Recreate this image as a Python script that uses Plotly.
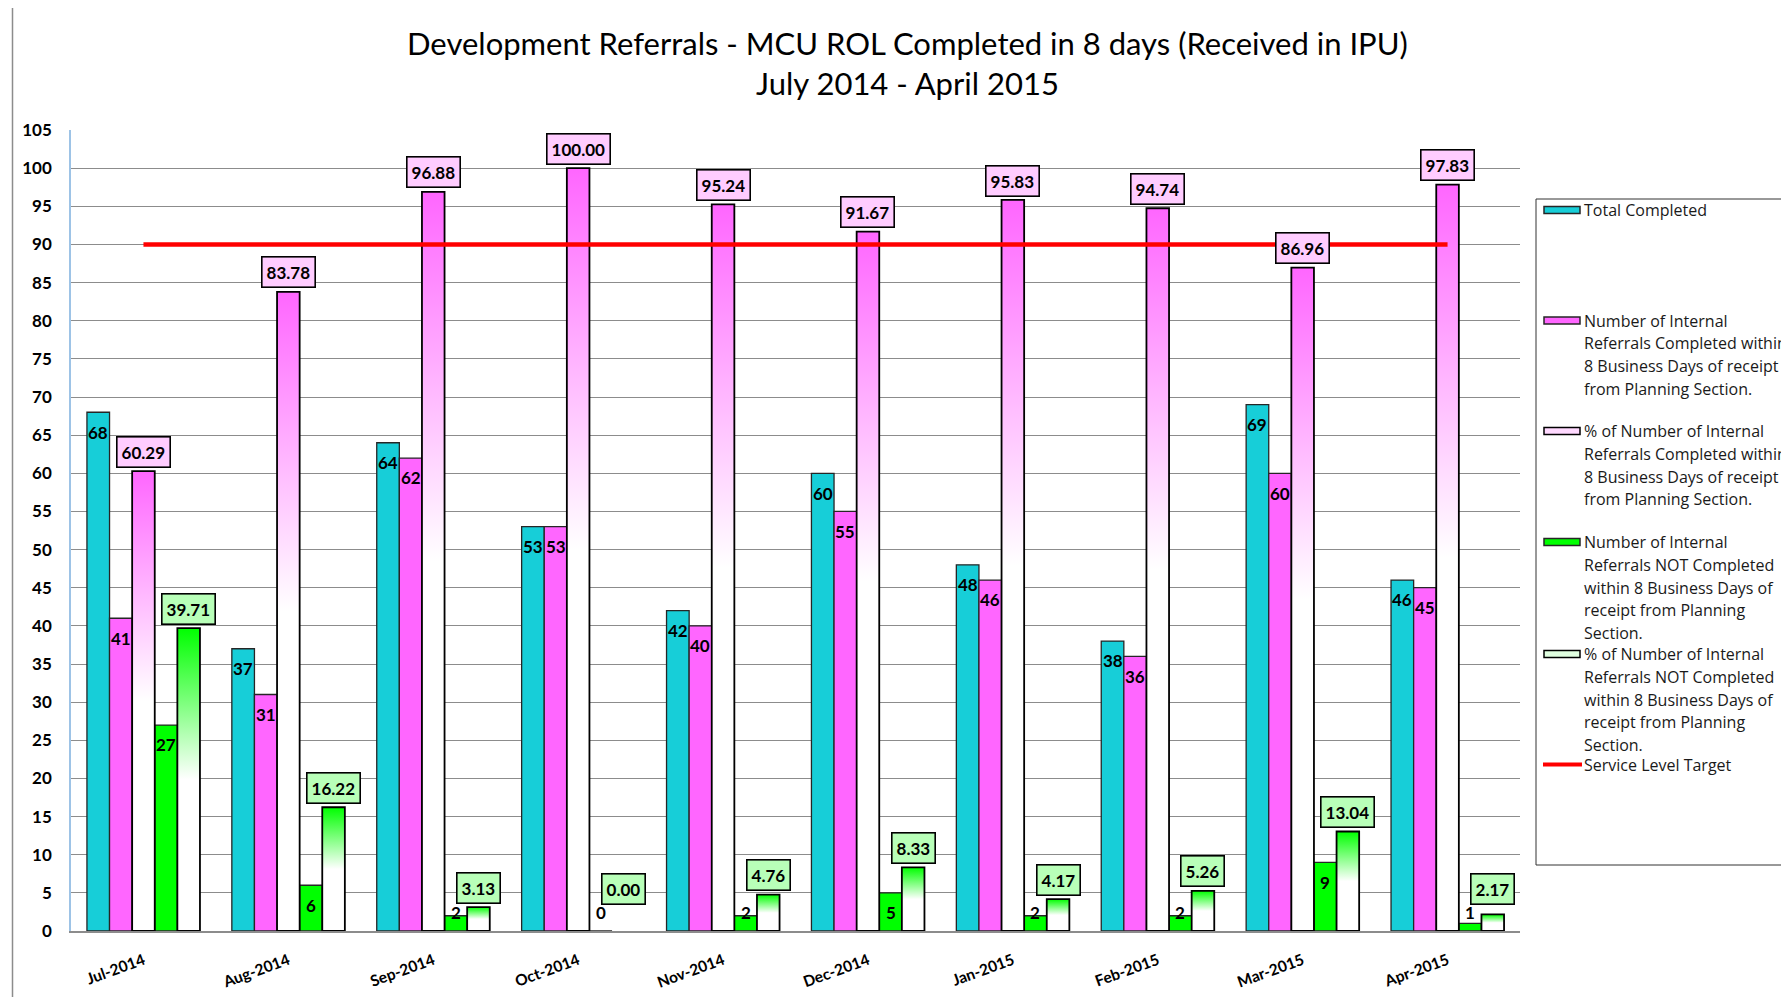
import plotly.graph_objects as go

# ---------------- data ----------------
months = ["Jul-2014", "Aug-2014", "Sep-2014", "Oct-2014", "Nov-2014",
          "Dec-2014", "Jan-2015", "Feb-2015", "Mar-2015", "Apr-2015"]
total_completed = [68, 37, 64, 53, 42, 60, 48, 38, 69, 46]
completed_within = [41, 31, 62, 53, 40, 55, 46, 36, 60, 45]
pct_completed_within = [60.29, 83.78, 96.88, 100.00, 95.24, 91.67, 95.83, 94.74, 86.96, 97.83]
not_completed = [27, 6, 2, 0, 2, 5, 2, 2, 9, 1]
pct_not_completed = [39.71, 16.22, 3.13, 0.00, 4.76, 8.33, 4.17, 5.26, 13.04, 2.17]
service_target = 90
y_ticks = list(range(0, 106, 5))

title_line1 = "Development Referrals - MCU ROL Completed in 8 days (Received in IPU)"
title_line2 = "July 2014 - April 2015"

legend_entries = [
    ["Total Completed"],
    ["Number of Internal", "Referrals Completed within", "8 Business Days of receipt", "from Planning Section."],
    ["% of Number of Internal", "Referrals Completed within", "8 Business Days of receipt", "from Planning Section."],
    ["Number of Internal", "Referrals NOT Completed", "within 8 Business Days of", "receipt from Planning", "Section."],
    ["% of Number of Internal", "Referrals NOT Completed", "within 8 Business Days of", "receipt from Planning", "Section."],
    ["Service Level Target"],
]

# ---------------- style ----------------
PAGE_OFF = 8                      # default body margin of the page
W, H = 1789 - PAGE_OFF, 997 - PAGE_OFF
PW, PH = 1449, 801
L, T = 71 - PAGE_OFF, 130 - PAGE_OFF
R, B = W - L - PW, H - T - PH
CYAN = "#17CED8"
MAGENTA = "#FF66FF"
GREEN = "#00FF00"
BW = 0.156          # bar width in category units
offsets = [-2 * BW, -BW, 0, BW, 2 * BW]
LBL_FONT = dict(family="Lato", size=17, color="black", weight="bold")
x_idx = list(range(len(months)))


def px_x(px):
    """page pixel -> paper x"""
    return (px - PAGE_OFF - L) / PW


def px_y(py):
    """page pixel -> paper y"""
    return (T + PH - (py - PAGE_OFF)) / PH


fig = go.Figure()

# solid bars
for vals, col, off in [(total_completed, CYAN, offsets[0]),
                       (completed_within, MAGENTA, offsets[1]),
                       (not_completed, GREEN, offsets[3])]:
    fig.add_trace(go.Bar(x=x_idx, y=vals, width=BW, offset=off - BW / 2,
                         marker=dict(color=col, line=dict(color="#262626", width=1.3)),
                         showlegend=False, hoverinfo="y"))

# gradient bars (white bottom -> colour top), one polygon per bar
for vals, col, off in [(pct_completed_within, MAGENTA, offsets[2]),
                       (pct_not_completed, GREEN, offsets[4])]:
    for i, v in zip(x_idx, vals):
        if v <= 0:
            continue
        x0, x1 = i + off - BW / 2, i + off + BW / 2
        fig.add_trace(go.Scatter(
            x=[x0, x0, x1, x1, x0], y=[0, v, v, 0, 0],
            mode="lines", fill="toself",
            fillgradient=dict(type="vertical",
                              colorscale=[[0, "#FFFFFF"], [0.5, "#FFFFFF"], [1, col]]),
            line=dict(color="black", width=1.8),
            showlegend=False, hoverinfo="skip"))

# service level target line
fig.add_trace(go.Scatter(x=x_idx, y=[service_target] * len(x_idx), mode="lines",
                         line=dict(color="#FF0000", width=4.5),
                         showlegend=False, hoverinfo="skip"))

annotations = []
# plain value labels
for vals, off in [(total_completed, offsets[0]), (completed_within, offsets[1]),
                  (not_completed, offsets[3])]:
    for i, v in zip(x_idx, vals):
        annotations.append(dict(x=i + off, y=max(v - 2.6, 2.4), text=str(v),
                                showarrow=False, font=LBL_FONT,
                                xanchor="center", yanchor="middle"))
# boxed percentage labels
for vals, off, bg in [(pct_completed_within, offsets[2], "#FFCCFF"),
                      (pct_not_completed, offsets[4], "#B8FFB8")]:
    for i, v in zip(x_idx, vals):
        annotations.append(dict(x=i + off, y=max(v + 2.55, 5.5), text=f"{v:.2f}",
                                showarrow=False, font=LBL_FONT,
                                xanchor="center", yanchor="middle",
                                bgcolor=bg, bordercolor="black", borderwidth=1.6,
                                borderpad=4))

# title
for txt, yy in [(title_line1, 43), (title_line2, 83)]:
    annotations.append(dict(xref="paper", yref="paper", x=px_x(907), y=px_y(yy),
                            text=txt, showarrow=False,
                            font=dict(family="Lato", size=31, color="black"),
                            xanchor="center", yanchor="middle"))

# manual legend
shapes = []
entry_tops = [210, 320.5, 431, 542, 654, 764.5]
line_step = 22.8
swatches = [("rect", CYAN, "#262626"), ("rect", MAGENTA, "#262626"),
            ("rect", "#FFD9FF", "black"), ("rect", GREEN, "#262626"),
            ("rect", "#E0FFE0", "black"), ("line", "#FF0000", None)]
for lines, ytop, sw in zip(legend_entries, entry_tops, swatches):
    for k, txt in enumerate(lines):
        annotations.append(dict(xref="paper", yref="paper", x=px_x(1582),
                                y=px_y(ytop + k * line_step), text=txt,
                                showarrow=False, xanchor="left", yanchor="middle",
                                font=dict(family="Open Sans", size=16, color="#1a1a1a")))
    kind, fc, lc = sw
    if kind == "rect":
        shapes.append(dict(type="rect", xref="paper", yref="paper",
                           x0=px_x(1544), x1=px_x(1580),
                           y0=px_y(ytop - 3.5), y1=px_y(ytop + 3.5),
                           fillcolor=fc, line=dict(color=lc, width=1.5)))
    else:
        shapes.append(dict(type="line", xref="paper", yref="paper",
                           x0=px_x(1543), x1=px_x(1582),
                           y0=px_y(ytop), y1=px_y(ytop),
                           line=dict(color=fc, width=4)))

# legend frame and outer chart frame
shapes.append(dict(type="rect", xref="paper", yref="paper",
                   x0=px_x(1536), x1=px_x(1900), y0=px_y(865), y1=px_y(199),
                   line=dict(color="#333333", width=1), layer="below"))
shapes.append(dict(type="rect", xref="paper", yref="paper",
                   x0=px_x(12.5), x1=px_x(1900), y0=px_y(1100), y1=px_y(6),
                   line=dict(color="#8c8c8c", width=1.5), layer="below"))

fig.update_layout(
    width=W, height=H,
    margin=dict(l=L, r=R, t=T, b=B, autoexpand=False),
    paper_bgcolor="white", plot_bgcolor="white",
    barmode="overlay",
    showlegend=False,
    annotations=annotations,
    shapes=shapes,
    xaxis=dict(range=[-0.5, 9.5], tickmode="array", tickvals=x_idx, ticktext=months,
               tickangle=-20, showgrid=False, zeroline=False,
               showline=True, linecolor="#8c8c8c", linewidth=1.5,
               ticks="", ticklabelstandoff=13,
               tickfont=dict(family="Lato", size=15.5, color="black", weight="bold")),
    yaxis=dict(range=[0, 105], tickmode="array", tickvals=y_ticks,
               showgrid=True, gridcolor="#8c8c8c", gridwidth=1.2, zeroline=False,
               showline=True, linecolor="#9DC3E6", linewidth=1.5,
               ticks="", ticklabelstandoff=14,
               tickfont=dict(family="Lato", size=17, color="black", weight="bold")),
)

fig.write_html("out.html")
